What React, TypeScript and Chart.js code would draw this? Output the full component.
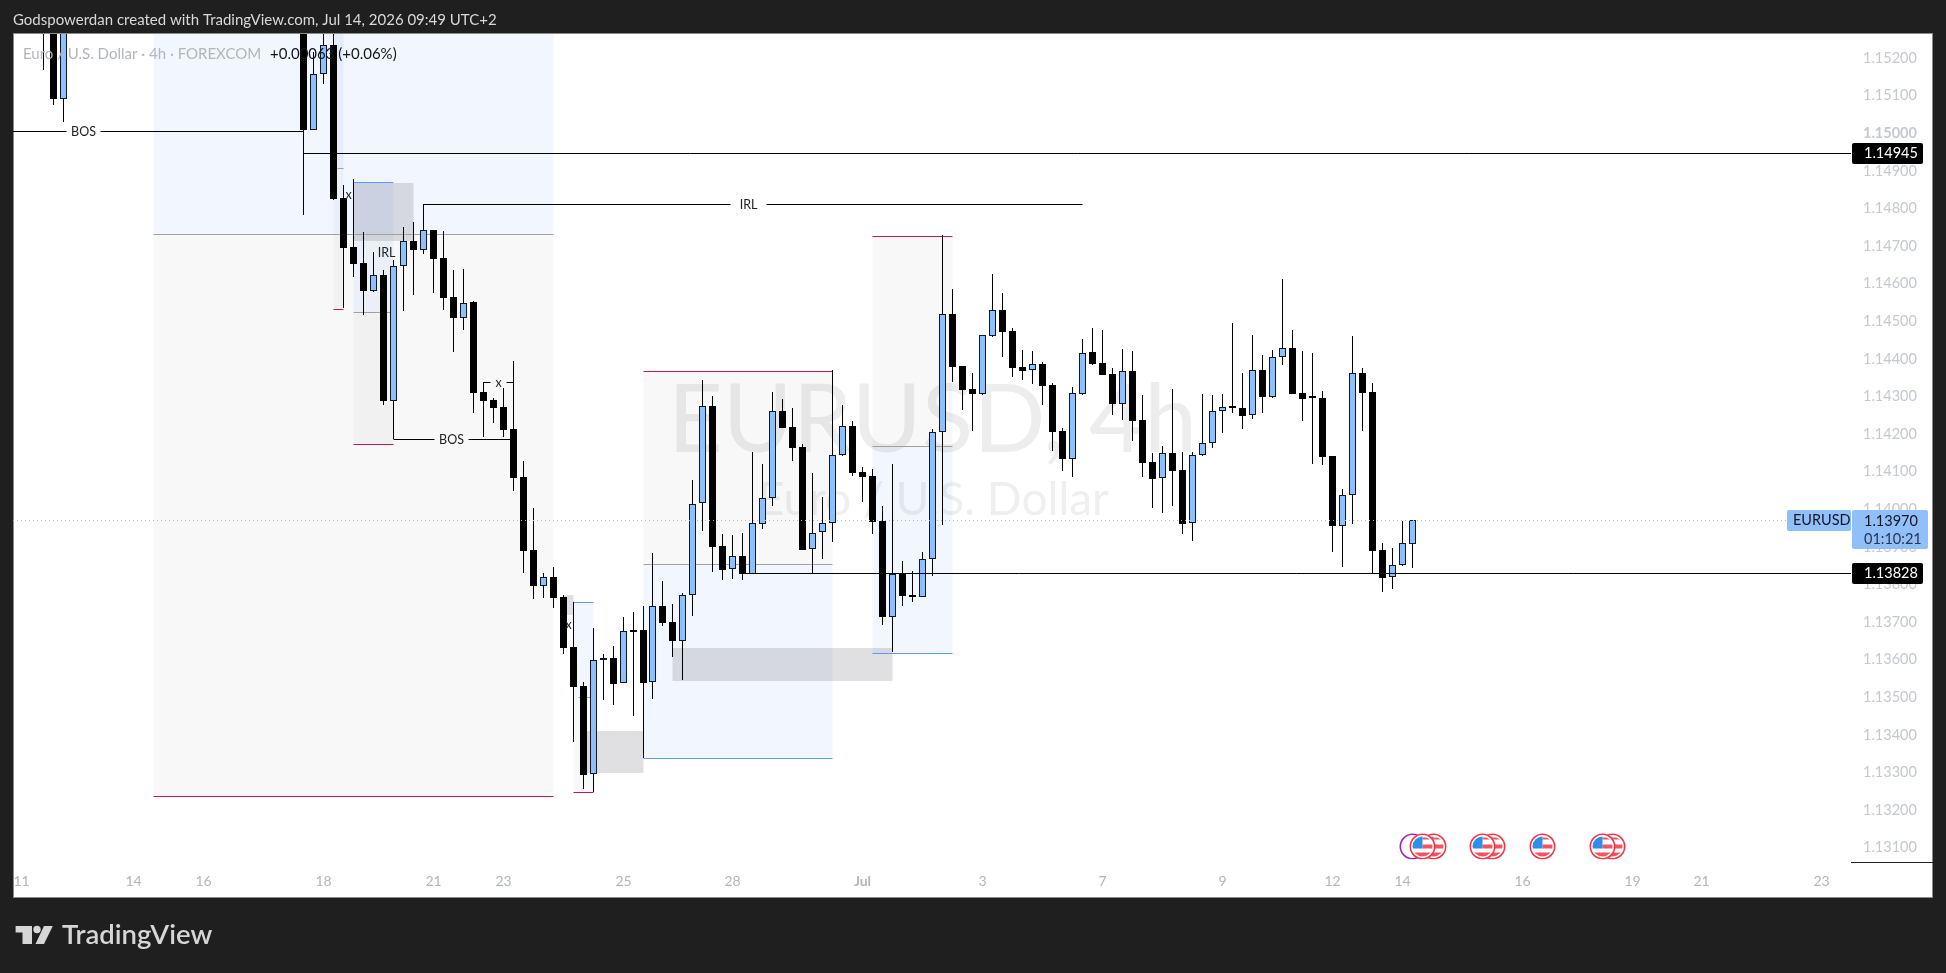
import React, { useEffect, useRef } from "react";
import { Chart, LinearScale, registerables } from "chart.js";

// ---------- candles (index = 4h bar number, prices) ----------
const offChart = Array(23).fill(null); // bars above the visible price range

const opens = [
  1.154, 1.155, 1.15091, ...offChart,
  1.1545, 1.15008, 1.15156, 1.15234, 1.14827, 1.14697, 1.14654, 1.1458, 1.14622, 1.14288,
  1.14645, 1.14713, 1.14689, 1.14742, 1.14668, 1.14564, 1.14509, 1.14551, 1.1431, 1.1429,
  1.1427, 1.14212, 1.14084, 1.13891, 1.13796, 1.13818, 1.13765, 1.13632, 1.13528, 1.13294,
  1.13597, 1.13603, 1.13536, 1.13678, 1.13678, 1.13539, 1.13742, 1.13699, 1.1365, 1.1377,
  1.14015, 1.14273, 1.13901, 1.13839, 1.13876, 1.13828, 1.13961, 1.14028, 1.1426, 1.14217,
  1.14164, 1.13893, 1.13938, 1.13962, 1.14143, 1.1422, 1.14097, 1.14087, 1.13967, 1.13713,
  1.13827, 1.13771, 1.13767, 1.13868, 1.14204, 1.14519, 1.1438, 1.14319, 1.14306, 1.14461,
  1.14529, 1.14473, 1.14378, 1.14369, 1.14385, 1.14329, 1.14207, 1.14134, 1.14306, 1.14417,
  1.14388, 1.14359, 1.1428, 1.14367, 1.14236, 1.14125, 1.14081, 1.14149, 1.14104, 1.13962,
  1.14143, 1.14175, 1.1426, 1.14271, 1.14268, 1.14249, 1.14369, 1.14299, 1.14403, 1.14427,
  1.14307, 1.14296, 1.14296, 1.1414, 1.13955, 1.14038, 1.14361, 1.1431, 1.1389, 1.13818,
  1.1385, 1.13908,
];
const highs = [
  1.155, 1.156, 1.156, ...offChart,
  1.155, 1.15215, 1.1535, 1.1535, 1.14862, 1.14877, 1.14736, 1.14683, 1.14635, 1.14662,
  1.14749, 1.14763, 1.1481, 1.14743, 1.14739, 1.14635, 1.14638, 1.14553, 1.14337, 1.14294,
  1.14321, 1.14393, 1.14127, 1.14002, 1.1383, 1.13845, 1.1377, 1.13752, 1.13539, 1.13683,
  1.13613, 1.13635, 1.13712, 1.13725, 1.13742, 1.13882, 1.13808, 1.13747, 1.13776, 1.14076,
  1.14343, 1.143, 1.13933, 1.13931, 1.13936, 1.14151, 1.14119, 1.14311, 1.14292, 1.14268,
  1.14174, 1.14095, 1.14032, 1.1437, 1.14276, 1.14234, 1.14111, 1.14106, 1.14008, 1.14119,
  1.13861, 1.13835, 1.13886, 1.14212, 1.14729, 1.14584, 1.1438, 1.14361, 1.14463, 1.14625,
  1.14574, 1.1448, 1.14423, 1.1442, 1.14391, 1.14334, 1.14214, 1.14323, 1.14452, 1.14481,
  1.14476, 1.14374, 1.14425, 1.1442, 1.14303, 1.14149, 1.14167, 1.14319, 1.14151, 1.14151,
  1.14306, 1.14303, 1.14306, 1.14494, 1.14361, 1.14463, 1.14409, 1.14423, 1.14611, 1.14476,
  1.1442, 1.14415, 1.14314, 1.14141, 1.14053, 1.1446, 1.14375, 1.14335, 1.13909, 1.13896,
  1.13968, 1.1397,
];
const lows = [
  1.15167, 1.15075, 1.1503, ...offChart,
  1.14782, 1.15007, 1.1513, 1.14822, 1.14535, 1.14618, 1.14515, 1.14576, 1.14276, 1.14185,
  1.14527, 1.1457, 1.14679, 1.14575, 1.1453, 1.14418, 1.14476, 1.14256, 1.14192, 1.14229,
  1.14192, 1.14048, 1.1383, 1.13761, 1.13764, 1.13737, 1.13615, 1.13381, 1.13256, 1.13248,
  1.13492, 1.13479, 1.13536, 1.1345, 1.13337, 1.13495, 1.13689, 1.13607, 1.13546, 1.13716,
  1.13941, 1.13833, 1.13812, 1.13814, 1.13811, 1.13827, 1.13947, 1.14009, 1.14215, 1.14128,
  1.13891, 1.13829, 1.13868, 1.13913, 1.14142, 1.14087, 1.14019, 1.13934, 1.13691, 1.1362,
  1.13743, 1.13753, 1.13766, 1.13822, 1.13958, 1.14338, 1.14263, 1.14208, 1.14304, 1.14458,
  1.14405, 1.14352, 1.14343, 1.14331, 1.14276, 1.14155, 1.14102, 1.14086, 1.14304, 1.14383,
  1.14356, 1.14251, 1.14237, 1.14181, 1.14085, 1.14002, 1.13989, 1.14008, 1.13933, 1.13915,
  1.14142, 1.14162, 1.14202, 1.14255, 1.14213, 1.1424, 1.14255, 1.14295, 1.14383, 1.14305,
  1.14234, 1.14119, 1.14117, 1.13886, 1.13846, 1.1396, 1.14207, 1.13829, 1.13779, 1.13786,
  1.13849, 1.13844,
];
const closes = [
  1.153, 1.15091, 1.155, ...offChart,
  1.15008, 1.15156, 1.15234, 1.14824, 1.14695, 1.14652, 1.1458, 1.14622, 1.14288, 1.14645,
  1.14713, 1.14689, 1.14741, 1.14666, 1.14562, 1.14509, 1.14549, 1.14309, 1.14288, 1.14269,
  1.14211, 1.14083, 1.13889, 1.13796, 1.13818, 1.13764, 1.13631, 1.13527, 1.13293, 1.13597,
  1.13603, 1.13535, 1.13675, 1.13674, 1.13538, 1.13741, 1.13697, 1.1365, 1.1377, 1.14014,
  1.14273, 1.139, 1.13838, 1.13875, 1.13828, 1.13962, 1.14028, 1.1426, 1.14216, 1.14163,
  1.13892, 1.13937, 1.13962, 1.14143, 1.1422, 1.14096, 1.14086, 1.13966, 1.13713, 1.13826,
  1.13769, 1.13766, 1.13867, 1.14204, 1.14518, 1.14378, 1.14317, 1.14306, 1.14462, 1.14528,
  1.14471, 1.14376, 1.14368, 1.14385, 1.14328, 1.14205, 1.14134, 1.14307, 1.14416, 1.14386,
  1.14357, 1.1428, 1.14366, 1.14235, 1.14123, 1.1408, 1.14148, 1.14102, 1.13961, 1.14143,
  1.14175, 1.1426, 1.1427, 1.14269, 1.14248, 1.14369, 1.14299, 1.14403, 1.14427, 1.14306,
  1.14293, 1.14294, 1.14139, 1.13955, 1.14038, 1.14361, 1.14309, 1.13889, 1.13817, 1.1385,
  1.13909, 1.1397,
];

// ---------- axes ----------
const priceTicks = [
  1.152, 1.151, 1.15, 1.149, 1.148, 1.147, 1.146, 1.145, 1.144, 1.143, 1.142,
  1.141, 1.14, 1.139, 1.138, 1.137, 1.136, 1.135, 1.134, 1.133, 1.132, 1.131,
];
const timeTickBars = [-2.2, 9, 16, 28, 39, 46, 58, 69, 82, 94, 106, 118, 129, 136, 148, 159, 166, 178];
const timeTickLabels = ["11", "14", "16", "18", "21", "23", "25", "28", "Jul", "3", "7", "9", "12", "14", "16", "19", "21", "23"];

// ---------- drawings (bar numbers and prices) ----------
const blueZones = [
  [11, 51, 1.1535, 1.1473],
  [29, 30, 1.1535, 1.14906],
  [31, 35, 1.1487, 1.14523],
  [53, 55, 1.13752, 1.13499],
  [60, 79, 1.13853, 1.13337],
  [83, 91, 1.14168, 1.13616],
];
const greyZones = [
  [11, 51, 1.1473, 1.13236],
  [29, 30, 1.14906, 1.14531],
  [31, 35, 1.14523, 1.14174],
  [53, 55, 1.13499, 1.13246],
  [60, 79, 1.14366, 1.13853],
  [83, 91, 1.14726, 1.14168],
];
const darkBoxes = [
  [31, 37, 1.14867, 1.14713],
  [52, 53, 1.13771, 1.13719],
  [54, 60, 1.13409, 1.13298],
  [63, 85, 1.1363, 1.13542],
];
const redEdges = [
  [11, 51, 1.13236],
  [29, 30, 1.14531],
  [31, 35, 1.14174],
  [53, 55, 1.13246],
  [60, 79, 1.14366],
  [83, 91, 1.14726],
];
const blueEdges = [
  [31, 35, 1.1487],
  [53, 55, 1.13752],
  [60, 79, 1.13337],
  [83, 91, 1.13616],
];
const midLines = [
  [11, 51, 1.1473],
  [29.4, 30, 1.14906],
  [31, 35, 1.14523],
  [53.5, 55, 1.13499],
  [60, 79, 1.13853],
  [83, 91, 1.14168],
];
const labelledLines = [
  { from: -3.06, to: 26, price: 1.15004, text: "BOS", at: 4, gap: 17 },
  { from: 35, to: 47, price: 1.14185, text: "BOS", at: 40.8, gap: 17 },
  { from: 38, to: 104, price: 1.1481, text: "IRL", at: 70.6, gap: 18 },
  { from: 44, to: 47, price: 1.14337, text: "x", at: 45.5, gap: 8 },
];
const looseLabels = [
  { text: "IRL", at: 34.3, price: 1.14681 },
  { text: "x", at: 30.5, price: 1.14834 },
  { text: "x", at: 52.5, price: 1.1369 },
];
const levelLines = [
  { from: 26, price: 1.14945 },
  { from: 70, price: 1.13828 },
];
const lastPrice = 1.1397;
const countdown = "01:10:21";
const symbolName = "EURUSD";
const eventBarsPurple = [137];
const eventBarsFlag = [139.1, 138, 145, 144, 150, 157, 156];

const headerText = "Godspowerdan created with TradingView.com, Jul 14, 2026 09:49 UTC+2";
const legendText = "Euro / U.S. Dollar · 4h · FOREXCOM";
const legendChange = "+0.00063 (+0.06%)";
const watermarkTop = "EURUSD, 4h";
const watermarkBottom = "Euro / U.S. Dollar";
const brandName = "TradingView";

// ---------- styling ----------
const FONT = "Lato, 'Open Sans', sans-serif";
const DARK = "#1f1f1f";
const BODY_BLUE = "#90bff9";

class SnapXScale extends LinearScale {
  static id = "snapX";
  static defaults = LinearScale.defaults;
  getPixelForValue(v: number) {
    return Math.floor(super.getPixelForValue(v)) + 0.5;
  }
}
class SnapYScale extends LinearScale {
  static id = "snapY";
  static defaults = LinearScale.defaults;
  getPixelForValue(v: number) {
    return Math.round(super.getPixelForValue(v));
  }
}
Chart.register(...registerables, SnapXScale, SnapYScale);

const roundedTag = (ctx: any, x: number, y: number, w: number, h: number, fill: string, r = 2) => {
  ctx.fillStyle = fill;
  ctx.beginPath();
  ctx.roundRect(x, y, w, h, r);
  ctx.fill();
};

const panelPlugin = {
  id: "panel",
  beforeDraw(chart: any) {
    const { ctx, width, height } = chart;
    ctx.save();
    ctx.fillStyle = DARK;
    ctx.fillRect(0, 0, width, height);
    ctx.fillStyle = "#ffffff";
    ctx.fillRect(13, 34, 1920, 863);
    ctx.strokeStyle = "#8a8a8a";
    ctx.lineWidth = 1;
    ctx.strokeRect(13.5, 33.5, 1919, 864);

    ctx.textBaseline = "middle";
    ctx.fillStyle = "#d8d8d8";
    ctx.font = `15px ${FONT}`;
    ctx.fillText(headerText, 13, 20);

    // logo
    ctx.fillStyle = "#d6d6d6";
    ctx.beginPath();
    ctx.moveTo(15.6, 926);
    ctx.lineTo(32, 926);
    ctx.lineTo(32, 944);
    ctx.lineTo(22.5, 944);
    ctx.lineTo(22.5, 932.5);
    ctx.lineTo(15.6, 932.5);
    ctx.closePath();
    ctx.fill();
    ctx.beginPath();
    ctx.arc(37, 929.5, 3.7, 0, Math.PI * 2);
    ctx.fill();
    ctx.beginPath();
    ctx.moveTo(44, 926);
    ctx.lineTo(52.8, 926);
    ctx.lineTo(44, 944);
    ctx.lineTo(35.5, 944);
    ctx.closePath();
    ctx.fill();
    ctx.font = `600 27.5px ${FONT}`;
    ctx.fillText(brandName, 62, 935);

    // short rule on the price axis
    ctx.strokeStyle = "#222222";
    ctx.beginPath();
    ctx.moveTo(1851, 862.5);
    ctx.lineTo(1933, 862.5);
    ctx.stroke();
    ctx.restore();
  },
  beforeDatasetsDraw(chart: any) {
    const { ctx, chartArea, scales } = chart;
    const X = (v: number) => scales.x.getPixelForValue(v);
    const Y = (v: number) => scales.y.getPixelForValue(v);
    ctx.save();
    ctx.beginPath();
    ctx.rect(chartArea.left, chartArea.top, chartArea.right - chartArea.left, chartArea.bottom - chartArea.top);
    ctx.clip();

    // watermark
    ctx.textAlign = "left";
    ctx.textBaseline = "alphabetic";
    ctx.fillStyle = "#ededed";
    ctx.font = `95px ${FONT}`;
    ctx.fillText(watermarkTop, 668, 452);
    ctx.fillStyle = "#efefef";
    ctx.font = `46px ${FONT}`;
    ctx.fillText(watermarkBottom, 758, 515);

    const zone = (list: number[][], fill: string) => {
      ctx.fillStyle = fill;
      list.forEach(([a, b, hi, lo]) => ctx.fillRect(X(a), Y(hi), X(b) - X(a), Y(lo) - Y(hi)));
    };
    zone(blueZones, "rgba(33,110,243,0.06)");
    zone(greyZones, "rgba(100,100,100,0.045)");
    zone(darkBoxes, "rgba(100,100,110,0.2)");

    const edge = (list: number[][], color: string) => {
      ctx.strokeStyle = color;
      ctx.lineWidth = 1;
      list.forEach(([a, b, p]) => {
        ctx.beginPath();
        ctx.moveTo(X(a), Y(p) + 0.5);
        ctx.lineTo(X(b), Y(p) + 0.5);
        ctx.stroke();
      });
    };
    edge(midLines, "#a0a0a0");
    edge(redEdges, "#c2185b");
    edge(blueEdges, "#5b9cf6");
    ctx.restore();
  },
  afterDatasetsDraw(chart: any) {
    const { ctx, chartArea, scales } = chart;
    const X = (v: number) => scales.x.getPixelForValue(v);
    const Y = (v: number) => scales.y.getPixelForValue(v);

    ctx.save();
    ctx.beginPath();
    ctx.rect(chartArea.left, chartArea.top, chartArea.right - chartArea.left + 90, chartArea.bottom - chartArea.top);
    ctx.clip();
    ctx.strokeStyle = "#000000";
    ctx.lineWidth = 1;

    // level lines
    levelLines.forEach(({ from, price }) => {
      ctx.beginPath();
      ctx.moveTo(X(from), Y(price) - 0.5);
      ctx.lineTo(chartArea.right, Y(price) - 0.5);
      ctx.stroke();
    });

    // labelled structure lines
    ctx.font = `12.5px ${FONT}`;
    ctx.textBaseline = "middle";
    ctx.textAlign = "center";
    labelledLines.forEach((l) => {
      const y = Y(l.price) + 0.5;
      const left = l.from < 0 ? chartArea.left : X(l.from);
      ctx.beginPath();
      ctx.moveTo(left, y);
      ctx.lineTo(X(l.at) - l.gap, y);
      ctx.moveTo(X(l.at) + l.gap, y);
      ctx.lineTo(X(l.to), y);
      ctx.stroke();
      ctx.fillStyle = "#222222";
      ctx.fillText(l.text, X(l.at), y);
    });
    looseLabels.forEach((l) => {
      ctx.fillStyle = "#222222";
      ctx.fillText(l.text, X(l.at), Y(l.price));
    });

    // last-price dotted line
    ctx.strokeStyle = BODY_BLUE;
    ctx.setLineDash([1, 3]);
    ctx.beginPath();
    ctx.moveTo(chartArea.left, Y(lastPrice) + 0.5);
    ctx.lineTo(1787, Y(lastPrice) + 0.5);
    ctx.stroke();
    ctx.setLineDash([]);

    // event markers
    const cy = 846.5;
    ctx.save();
    ctx.beginPath();
    ctx.rect(1390, 830, 250, 29.5);
    ctx.clip();
    eventBarsPurple.forEach((b) => {
      ctx.beginPath();
      ctx.arc(X(b), cy, 12.2, 0, Math.PI * 2);
      ctx.fillStyle = "#ffffff";
      ctx.fill();
      ctx.strokeStyle = "#9c27b0";
      ctx.lineWidth = 1.6;
      ctx.stroke();
    });
    eventBarsFlag.forEach((b) => {
      const cx = X(b);
      ctx.beginPath();
      ctx.arc(cx, cy, 12.2, 0, Math.PI * 2);
      ctx.fillStyle = "#ffffff";
      ctx.fill();
      ctx.strokeStyle = "#f23645";
      ctx.lineWidth = 1.6;
      ctx.stroke();
      ctx.save();
      ctx.beginPath();
      ctx.arc(cx, cy, 10, 0, Math.PI * 2);
      ctx.clip();
      ctx.fillStyle = "#f7525f";
      ctx.fillRect(cx, cy - 2, 11, 4);
      ctx.fillRect(cx - 11, cy + 6, 22, 5);
      ctx.fillRect(cx, cy - 9, 11, 2);
      ctx.fillStyle = "#2f8fe8";
      ctx.fillRect(cx - 11, cy - 11, 11, 13);
      ctx.restore();
    });
    ctx.restore();
    ctx.restore();

    // legend
    ctx.save();
    ctx.textAlign = "left";
    ctx.textBaseline = "middle";
    ctx.font = `15px ${FONT}`;
    ctx.fillStyle = "#b2b5be";
    ctx.fillText(legendText, 23, 54);
    ctx.fillStyle = "#131722";
    ctx.fillText(legendChange, 270, 54);

    // price tags
    ctx.font = `14.5px ${FONT}`;
    levelLines.forEach(({ price }) => {
      const y = Y(price);
      roundedTag(ctx, 1852, y - 11, 71, 21, "#000000");
      ctx.fillStyle = "#ffffff";
      ctx.fillText(price.toFixed(5), 1864, y - 0.5);
    });
    const ly = Y(lastPrice);
    roundedTag(ctx, 1787, ly - 10, 64, 21, BODY_BLUE);
    ctx.fillStyle = "#131722";
    ctx.fillText(symbolName, 1793, ly + 0.5);
    roundedTag(ctx, 1852, ly - 10, 76, 39, BODY_BLUE);
    ctx.fillStyle = "#131722";
    ctx.fillText(lastPrice.toFixed(5), 1864, ly + 1);
    ctx.fillStyle = "#2a3550";
    ctx.fillText(countdown, 1864, ly + 19);
    ctx.restore();
  },
};

export default function App() {
  const ref = useRef<HTMLCanvasElement>(null);

  useEffect(() => {
    const bars = opens.map((o, i) => ({ i, o, h: highs[i], l: lows[i], c: closes[i] })).filter((b) => b.o !== null);
    const chart = new Chart(ref.current as HTMLCanvasElement, {
      type: "bar",
      data: {
        datasets: [
          {
            label: "wick",
            data: bars.map((b) => ({ x: b.i, y: [b.l, b.h] })),
            backgroundColor: "#000000",
            borderWidth: 0,
            maxBarThickness: 1,
            inflateAmount: 0,
            grouped: false,
            barPercentage: 1,
            categoryPercentage: 1,
            order: 2,
          },
          {
            label: "body",
            data: bars.map((b) => ({ x: b.i, y: [b.o, b.c] })),
            backgroundColor: bars.map((b) => (b.c >= b.o ? BODY_BLUE : "#000000")),
            borderColor: bars.map((b) => (b.c >= b.o ? "#0c1a2c" : "#000000")),
            borderWidth: 1,
            borderSkipped: false,
            maxBarThickness: 7,
            minBarLength: 2,
            inflateAmount: 0,
            grouped: false,
            barPercentage: 1,
            categoryPercentage: 1,
            order: 1,
          },
        ],
      } as any,
      plugins: [panelPlugin],
      options: {
        animation: false,
        responsive: false,
        devicePixelRatio: 1,
        layout: { padding: { left: 13, top: 34, right: 13, bottom: 76 } },
        plugins: { legend: { display: false }, tooltip: { enabled: false } },
        scales: {
          x: {
            type: "snapX",
            position: "bottom",
            offset: false,
            min: -3.064,
            max: 180.92,
            grid: { display: false, offset: false },
            border: { display: false },
            afterFit: (s: any) => {
              s.height = 35;
            },
            afterBuildTicks: (s: any) => {
              s.ticks = timeTickBars.map((value) => ({ value }));
            },
            ticks: {
              autoSkip: false,
              maxRotation: 0,
              padding: 3,
              color: "#b2b5be",
              font: (c: any) => ({
                family: FONT,
                size: 14,
                weight: c.index === 8 ? "bold" : "normal",
              }),
              callback: (_v: any, i: number) => timeTickLabels[i],
            },
          },
          y: {
            type: "snapY",
            position: "right",
            min: 1.13061,
            max: 1.152631,
            grid: { display: false },
            border: { display: false },
            afterFit: (s: any) => {
              s.width = 82;
            },
            afterBuildTicks: (s: any) => {
              s.ticks = priceTicks.map((value) => ({ value }));
            },
            ticks: {
              autoSkip: false,
              padding: 4,
              color: "#c6c8d0",
              font: (c: any) => ({
                family: FONT,
                size: 14.5,
                weight: c.tick && c.tick.value === 1.15 ? "bold" : "normal",
              }),
              callback: (v: any) => Number(v).toFixed(5),
            },
          },
        },
      } as any,
    });
    return () => chart.destroy();
  }, []);

  return (
    <canvas
      ref={ref}
      width={1946}
      height={973}
      style={{ position: "fixed", left: 0, top: 0, width: 1946, height: 973, display: "block" }}
    />
  );
}
